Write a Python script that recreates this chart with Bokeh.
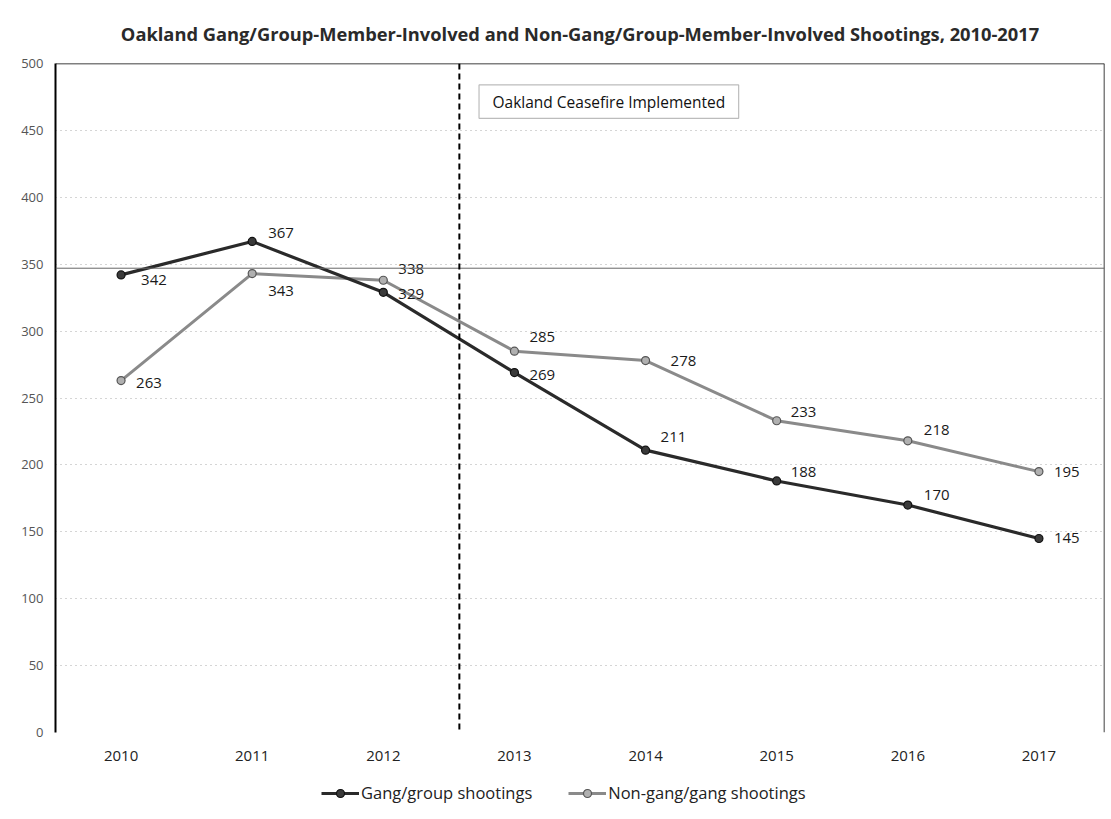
from bokeh.plotting import figure
from bokeh.layouts import column
from bokeh.models import (ColumnDataSource, Span, Label, Legend, LegendItem,
                          FixedTicker, Range1d, BoxAnnotation)
from bokeh.embed import file_html
from bokeh.resources import INLINE
from bokeh.core.properties import value

# ---- data ----
years = [2010, 2011, 2012, 2013, 2014, 2015, 2016, 2017]
gang = [342, 367, 329, 269, 211, 188, 170, 145]
nongang = [263, 343, 338, 285, 278, 233, 218, 195]
y_ticks = [0, 50, 100, 150, 200, 250, 300, 350, 400, 450, 500]
title_text = "Oakland Gang/Group-Member-Involved and Non-Gang/Group-Member-Involved Shootings, 2010-2017"
note_text = "Oakland Ceasefire Implemented"
ceasefire_x = 2012.58
series_names = ["Gang/group shootings", "Non-gang/gang shootings"]

# label offsets (style, in screen pixels)
gang_dx = [20, 16, 15, 15, 15, 14, 16, 15]
gang_dy = [5, -8, 2, 2, -13, -9, -10, 0]
non_dx = [15, 16, 15, 15, 25, 14, 16, 15]
non_dy = [2, 17, -11, -14, 0, -9, -11, 0]

FONT = "Open Sans"
GANG_LINE, GANG_FILL, GANG_EDGE = "#2a2a2a", "#3a3a3a", "#111111"
NON_LINE, NON_FILL, NON_EDGE = "#8a8a8a", "#b0b0b0", "#555555"

p = figure(width=1108, height=770, output_backend="svg", toolbar_location=None,
           x_range=Range1d(2009.5, 2017.5), y_range=Range1d(0, 500),
           min_border_left=55, min_border_right=4, min_border_top=63,
           min_border_bottom=38)
p.background_fill_color = "white"
p.border_fill_color = "white"
p.outline_line_color = None

p.title.text = title_text
p.title.align = "center"
p.title.text_font = FONT
p.title.text_font_size = "18.3px"
p.title.text_font_style = "bold"
p.title.text_color = "#2a2a2a"
p.title.offset = 0
p.title.standoff = 36

# axes
p.xaxis.ticker = FixedTicker(ticks=years)
p.xaxis.major_tick_line_color = None
p.xaxis.major_tick_out = 0
p.xaxis.major_tick_in = 0
p.xaxis.minor_tick_line_color = None
p.xaxis.axis_line_color = None
p.xaxis.major_label_text_font = FONT
p.xaxis.major_label_text_font_size = "15px"
p.xaxis.major_label_text_color = "#222222"
p.xaxis.major_label_standoff = 18

p.yaxis.ticker = FixedTicker(ticks=y_ticks)
p.yaxis.major_tick_line_color = None
p.yaxis.major_tick_out = 0
p.yaxis.major_tick_in = 0
p.yaxis.minor_tick_line_color = None
p.yaxis.axis_line_color = "black"
p.yaxis.axis_line_width = 2
p.yaxis.major_label_text_font = FONT
p.yaxis.major_label_text_font_size = "13px"
p.yaxis.major_label_text_color = "#555555"
p.yaxis.major_label_standoff = 12

p.xgrid.grid_line_color = None
p.ygrid.grid_line_color = "#aaaaaa"
p.ygrid.grid_line_dash = "1 4"
p.ygrid.grid_line_width = 1

# frame top / right
p.add_layout(Span(location=500, dimension="width", line_color="black", line_width=1.5))
p.add_layout(Span(location=2017.5, dimension="height", line_color="black", line_width=1.5))
# scanning line
p.add_layout(Span(location=347, dimension="width", line_color="#666666", line_width=1))

# ceasefire line
p.add_layout(Span(location=ceasefire_x, dimension="height", line_color="black",
                  line_width=2, line_dash="6 4"))

src = ColumnDataSource(dict(x=years, gang=gang, non=nongang,
                            gl=[str(v) for v in gang], nl=[str(v) for v in nongang],
                            gdx=gang_dx, gdy=gang_dy, ndx=non_dx, ndy=non_dy))

p.line("x", "non", source=src, line_color=NON_LINE, line_width=3)
p.scatter("x", "non", source=src, size=8, marker="circle",
          fill_color=NON_FILL, line_color=NON_EDGE, line_width=1.2)
p.line("x", "gang", source=src, line_color=GANG_LINE, line_width=3.2)
p.scatter("x", "gang", source=src, size=8, marker="circle",
          fill_color=GANG_FILL, line_color=GANG_EDGE, line_width=1.2)

p.text("x", "gang", text="gl", source=src, x_offset="gdx", y_offset="gdy",
       text_font=value(FONT), text_font_size="15px", text_color="#1a1a1a",
       text_baseline="middle", text_align="left")
p.text("x", "non", text="nl", source=src, x_offset="ndx", y_offset="ndy",
       text_font=value(FONT), text_font_size="15px", text_color="#1a1a1a",
       text_baseline="middle", text_align="left")

# annotation box
p.add_layout(BoxAnnotation(left=2012.73, right=2014.71, bottom=459, top=484,
                           fill_color="white", fill_alpha=1.0,
                           line_color="#222222", line_width=1.2))
p.add_layout(Label(x=2013.72, y=471.5, text=note_text, text_align="center",
                   text_baseline="middle", text_font=FONT, text_font_size="15.5px",
                   text_color="#111111"))

# ---- legend strip below ----
lg = figure(width=1108, height=45, output_backend="svg", toolbar_location=None,
            x_range=Range1d(0, 1), y_range=Range1d(0, 1),
            min_border_left=0, min_border_right=0, min_border_top=0,
            min_border_bottom=0)
lg.axis.visible = False
lg.grid.visible = False
lg.outline_line_color = None
lg.background_fill_color = "white"
lg.border_fill_color = "white"
nan_src = ColumnDataSource(dict(x=[float("nan")], y=[float("nan")]))
g1 = lg.line("x", "y", source=nan_src, line_color=GANG_LINE, line_width=3.2)
g2 = lg.scatter("x", "y", source=nan_src, size=8, marker="circle",
                fill_color=GANG_FILL, line_color=GANG_EDGE, line_width=1.2)
n1 = lg.line("x", "y", source=nan_src, line_color=NON_LINE, line_width=3)
n2 = lg.scatter("x", "y", source=nan_src, size=8, marker="circle",
                fill_color=NON_FILL, line_color=NON_EDGE, line_width=1.2)
legend = Legend(items=[LegendItem(label=series_names[0], renderers=[g1, g2]),
                       LegendItem(label=series_names[1], renderers=[n1, n2])],
                orientation="horizontal", location=(266, 11),
                label_text_font=FONT, label_text_font_size="16.5px",
                label_text_color="#222222", border_line_color=None,
                background_fill_alpha=0, glyph_width=38, spacing=36,
                label_standoff=2, padding=2, margin=0)
lg.add_layout(legend)

open("out.html", "w").write(file_html(column(p, lg, spacing=0), INLINE))
